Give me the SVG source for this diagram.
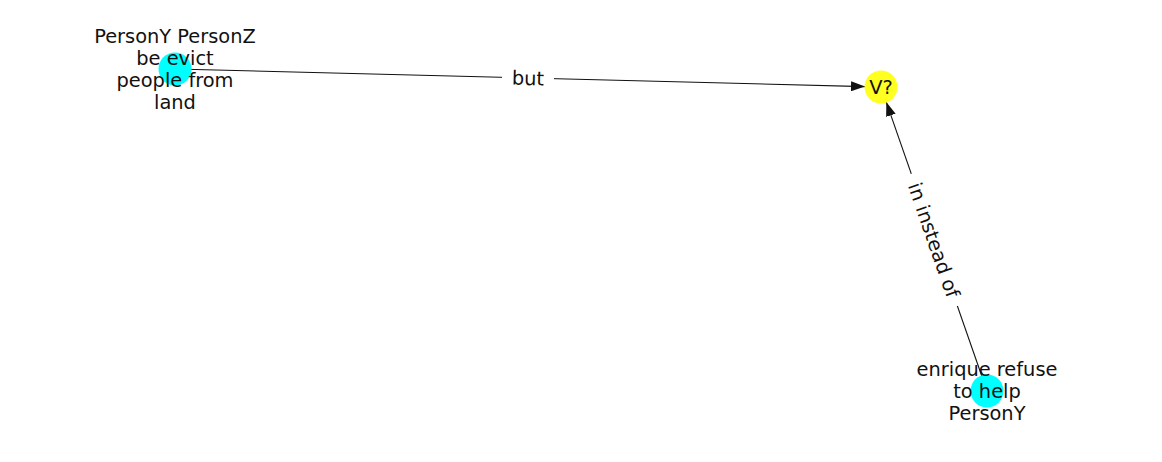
<svg xmlns="http://www.w3.org/2000/svg" width="1162" height="462" viewBox="0 0 1162 462">
<defs>
<style>
text{font-family:"DejaVu Sans",sans-serif;font-size:19.4px;fill:#111;text-anchor:middle}
.edge{stroke:#111;stroke-width:1.1;fill:none}
.lbl{fill:#fff}
</style>
<marker id="arr" viewBox="0 0 14 10" refX="14" refY="5" markerWidth="14" markerHeight="10" markerUnits="userSpaceOnUse" orient="auto">
<path d="M0,0 L14,5 L0,10 Z" fill="#111"/>
</marker>
</defs>
<rect width="1162" height="462" fill="#fff"/>
<g id="connectors">
<line class="edge" x1="175" y1="69" x2="865" y2="86.6" marker-end="url(#arr)"/>
<line class="edge" x1="987" y1="391" x2="886.3" y2="102.1" marker-end="url(#arr)"/>
<g transform="translate(528,78) rotate(1.46)">
<rect class="lbl" x="-26" y="-12" width="52" height="24"/>
<text x="0" y="7">but</text>
</g>
<g transform="translate(934,240) rotate(70.8)">
<rect class="lbl" x="-70" y="-12" width="140" height="24"/>
<text x="0" y="7">in instead of</text>
</g>
</g>
<g id="node-a">
<circle cx="175" cy="69" r="16.5" fill="#00ffff"/>
<text x="175" y="43">PersonY PersonZ</text>
<text x="175" y="65">be evict</text>
<text x="175" y="87">people from</text>
<text x="175" y="109">land</text>
</g>
<g id="node-v">
<circle cx="881" cy="87" r="16.5" fill="#ffff22"/>
<text x="881" y="94">V?</text>
</g>
<g id="node-c">
<circle cx="987" cy="391" r="16.5" fill="#00ffff"/>
<text x="987" y="376">enrique refuse</text>
<text x="987" y="398">to help</text>
<text x="987" y="420">PersonY</text>
</g>
</svg>
